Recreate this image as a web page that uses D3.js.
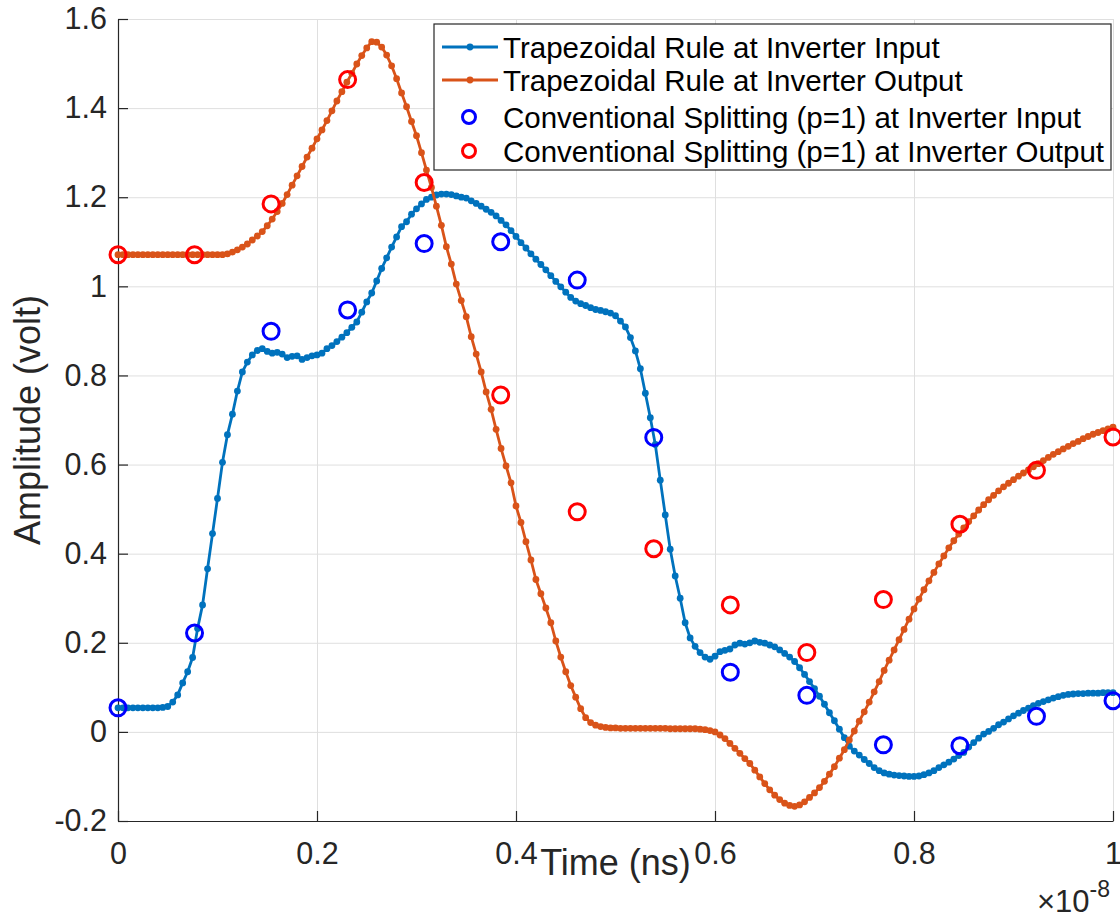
<!DOCTYPE html>
<html>
<head>
<meta charset="utf-8">
<script src="https://cdn.jsdelivr.net/npm/d3@7/dist/d3.min.js"></script>
<style>
    body { margin: 0; background: #fff; }
    text { font-family: "Liberation Sans", Arial, Helvetica, sans-serif; }
</style>
</head>
<body>
<script>
//sampling of the trapezoidal rule runs and of the splitting runs (seconds)
var trapStep = 0.005e-8
var splitStep = 1e-8 / 13

//Trapezoidal Rule at inverter input (volt), one value per trapStep
var trapInput = [
    0.054, 0.054, 0.054, 0.054, 0.054, 0.054, 0.054, 0.054, 0.054, 0.055,
    0.057, 0.067, 0.083, 0.110, 0.135, 0.167, 0.232, 0.285, 0.366, 0.445,
    0.524, 0.605, 0.667, 0.713, 0.765, 0.808, 0.830, 0.846, 0.856, 0.860,
    0.854, 0.850, 0.852, 0.848, 0.840, 0.843, 0.844, 0.836, 0.840, 0.844,
    0.846, 0.850, 0.860, 0.867, 0.876, 0.886, 0.896, 0.908, 0.920, 0.942,
    0.965, 0.985, 1.012, 1.040, 1.064, 1.088, 1.111, 1.134, 1.145, 1.162,
    1.174, 1.185, 1.195, 1.200, 1.205, 1.207, 1.207, 1.206, 1.203, 1.200,
    1.198, 1.192, 1.186, 1.180, 1.173, 1.166, 1.158, 1.148, 1.138, 1.125,
    1.112, 1.098, 1.086, 1.073, 1.061, 1.049, 1.037, 1.024, 1.011, 0.999,
    0.987, 0.975, 0.967, 0.961, 0.957, 0.952, 0.948, 0.946, 0.943, 0.940,
    0.934, 0.922, 0.909, 0.885, 0.855, 0.815, 0.760, 0.705, 0.645, 0.565,
    0.487, 0.410, 0.350, 0.300, 0.245, 0.211, 0.192, 0.178, 0.168, 0.163,
    0.170, 0.180, 0.183, 0.186, 0.195, 0.199, 0.197, 0.200, 0.204, 0.201,
    0.199, 0.195, 0.191, 0.184, 0.176, 0.168, 0.158, 0.144, 0.129, 0.113,
    0.097, 0.080, 0.062, 0.043, 0.025, 0.006, -0.013, -0.032, -0.043, -0.052,
    -0.062, -0.071, -0.080, -0.087, -0.092, -0.095, -0.097, -0.098, -0.099, -0.100,
    -0.100, -0.099, -0.096, -0.092, -0.087, -0.080, -0.074, -0.068, -0.061, -0.053,
    -0.046, -0.034, -0.024, -0.014, -0.005, 0.001, 0.008, 0.016, 0.022, 0.029,
    0.036, 0.042, 0.048, 0.053, 0.059, 0.064, 0.068, 0.072, 0.076, 0.079,
    0.082, 0.084, 0.085, 0.086, 0.086, 0.087, 0.087, 0.087, 0.088, 0.088, 0.088
]

//Trapezoidal Rule at inverter output (volt), one value per trapStep
var trapOutput = [
    1.071, 1.071, 1.071, 1.071, 1.071, 1.071, 1.071, 1.071, 1.071, 1.071,
    1.071, 1.071, 1.071, 1.071, 1.071, 1.071, 1.071, 1.071, 1.071, 1.071,
    1.071, 1.071, 1.073, 1.077, 1.082, 1.088, 1.095, 1.104, 1.113, 1.123,
    1.136, 1.151, 1.168, 1.186, 1.206, 1.227, 1.248, 1.269, 1.290, 1.310,
    1.331, 1.351, 1.372, 1.394, 1.416, 1.437, 1.458, 1.478, 1.499, 1.518,
    1.535, 1.549, 1.548, 1.537, 1.519, 1.495, 1.466, 1.434, 1.403, 1.370,
    1.338, 1.300, 1.261, 1.222, 1.180, 1.137, 1.089, 1.050, 1.005, 0.968,
    0.932, 0.887, 0.848, 0.808, 0.763, 0.724, 0.679, 0.636, 0.597, 0.559,
    0.507, 0.470, 0.427, 0.386, 0.342, 0.310, 0.278, 0.245, 0.204, 0.168,
    0.135, 0.104, 0.078, 0.052, 0.032, 0.021, 0.015, 0.012, 0.010, 0.009,
    0.009, 0.008, 0.008, 0.008, 0.008, 0.008, 0.008, 0.008, 0.008, 0.008,
    0.008, 0.007, 0.007, 0.007, 0.007, 0.007, 0.007, 0.006, 0.005, 0.003,
    0.000, -0.007, -0.015, -0.026, -0.037, -0.048, -0.060, -0.071, -0.086, -0.101,
    -0.116, -0.130, -0.142, -0.152, -0.160, -0.165, -0.167, -0.164, -0.157, -0.147,
    -0.137, -0.125, -0.111, -0.095, -0.078, -0.059, -0.040, -0.018, 0.002, 0.024,
    0.045, 0.067, 0.090, 0.113, 0.138, 0.161, 0.184, 0.207, 0.230, 0.253,
    0.276, 0.298, 0.319, 0.339, 0.358, 0.377, 0.395, 0.413, 0.429, 0.444,
    0.458, 0.472, 0.485, 0.498, 0.510, 0.521, 0.531, 0.541, 0.550, 0.558,
    0.566, 0.574, 0.581, 0.588, 0.595, 0.602, 0.609, 0.616, 0.623, 0.629,
    0.635, 0.641, 0.647, 0.652, 0.658, 0.663, 0.668, 0.672, 0.676, 0.680, 0.684
]

//Conventional Splitting (p=1), one value per splitStep
var splitInput = [0.054, 0.222, 0.899, 0.947, 1.096, 1.100, 1.014, 0.661, 0.134, 0.082, -0.029, -0.031, 0.035, 0.070]
var splitOutput = [1.071, 1.071, 1.185, 1.464, 1.233, 0.756, 0.494, 0.411, 0.285, 0.178, 0.297, 0.466, 0.587, 0.662]

//tick values and legend entries
var xTicks = [0, 0.2e-8, 0.4e-8, 0.6e-8, 0.8e-8, 1e-8]
var yTicks = [-0.2, 0, 0.2, 0.4, 0.6, 0.8, 1, 1.2, 1.4, 1.6]
var legendLabels = ['Trapezoidal Rule at Inverter Input', 'Trapezoidal Rule at Inverter Output',
    'Conventional Splitting (p=1) at Inverter Input', 'Conventional Splitting (p=1) at Inverter Output']

//matlab default colours
var lineColors = ['#0072BD', '#D95319']
var circleColors = ['#0000FF', '#FF0000']
var axisColor = '#262626'

var margin = { top: 19, right: 7, bottom: 98, left: 118 },
    width = 1120 - margin.left - margin.right,
    height = 919 - margin.top - margin.bottom

var svg = d3.select('body').append('svg')
    .attr('width', 1120)
    .attr('height', 919)
    .style('display', 'block')

var g = svg.append('g').attr('transform', 'translate(' + margin.left + ',' + margin.top + ')')

var xScale = d3.scaleLinear().domain([0, 1e-8]).range([0, width])
var yScale = d3.scaleLinear().domain([-0.2, 1.6]).range([height, 0])

//plain number labels, hyphen minus like matlab
function fmt(v) { return String(+v.toFixed(1)) }

//grid lines
var gridX = g.append('g')
    .attr('transform', 'translate(0,' + height + ')')
    .call(d3.axisBottom(xScale).tickValues(xTicks).tickSize(-height).tickFormat(''))
var gridY = g.append('g')
    .call(d3.axisLeft(yScale).tickValues(yTicks).tickSize(-width).tickFormat(''))
;[gridX, gridY].forEach(function (grid) {
    grid.select('.domain').remove()
    grid.selectAll('line').attr('stroke', '#dfdfdf').attr('stroke-width', 1)
})

//axes with inward ticks
var xAxis = g.append('g')
    .attr('transform', 'translate(0,' + height + ')')
    .call(d3.axisBottom(xScale).tickValues(xTicks).tickSizeInner(-10).tickSizeOuter(0).tickPadding(21)
        .tickFormat(function (d) { return fmt(d / 1e-8) }))
var yAxis = g.append('g')
    .call(d3.axisLeft(yScale).tickValues(yTicks).tickSizeInner(-10).tickSizeOuter(0).tickPadding(11)
        .tickFormat(fmt))

;[xAxis, yAxis].forEach(function (axis) {
    axis.attr('font-family', null)
    axis.selectAll('.domain, .tick line').attr('stroke', axisColor).attr('stroke-width', 1.2)
    axis.selectAll('text').attr('font-size', 30.5).attr('fill', axisColor)
})

//exponent of the x axis
var expo = g.append('text')
    .attr('x', width - 3)
    .attr('y', height + 91)
    .attr('text-anchor', 'end')
    .attr('fill', axisColor)
    .attr('font-size', 31)
expo.append('tspan').text('\u00d710')
expo.append('tspan').attr('dy', -15).attr('font-size', 23).text('-8')

//axis labels
g.append('text')
    .attr('x', width / 2)
    .attr('y', height + 54)
    .attr('text-anchor', 'middle')
    .attr('fill', axisColor)
    .attr('font-size', 36)
    .text('Time (ns)')
g.append('text')
    .attr('transform', 'rotate(-90)')
    .attr('x', -height / 2)
    .attr('y', -78)
    .attr('text-anchor', 'middle')
    .attr('fill', axisColor)
    .attr('font-size', 36)
    .text('Amplitude (volt)')

//trapezoidal rule curves drawn as line plus point markers
var line = d3.line()
    .x(function (d, i) { return xScale(i * trapStep) })
    .y(function (d) { return yScale(d) })

;[trapInput, trapOutput].forEach(function (series, k) {
    g.append('path')
        .datum(series)
        .attr('fill', 'none')
        .attr('stroke', lineColors[k])
        .attr('stroke-width', 2.8)
        .attr('stroke-linejoin', 'round')
        .attr('d', line)
    g.append('g').selectAll('circle')
        .data(series)
        .enter().append('circle')
        .attr('cx', function (d, i) { return xScale(i * trapStep) })
        .attr('cy', function (d) { return yScale(d) })
        .attr('r', 3.4)
        .attr('fill', lineColors[k])
})

//splitting results as open circles
;[splitInput, splitOutput].forEach(function (series, k) {
    g.append('g').selectAll('circle')
        .data(series)
        .enter().append('circle')
        .attr('cx', function (d, i) { return xScale(i * splitStep) })
        .attr('cy', function (d) { return yScale(d) })
        .attr('r', 8)
        .attr('fill', 'none')
        .attr('stroke', circleColors[k])
        .attr('stroke-width', 3)
})

//legend
var legend = svg.append('g').attr('transform', 'translate(434,24)')
legend.append('rect')
    .attr('width', 677)
    .attr('height', 146)
    .attr('fill', '#fff')
    .attr('stroke', axisColor)
    .attr('stroke-width', 1.2)

var rowY = [23, 56, 93, 127]
var rows = legend.selectAll('.legend')
    .data(legendLabels)
    .enter().append('g')
    .attr('class', 'legend')
    .attr('transform', function (d, i) { return 'translate(0,' + rowY[i] + ')' })

rows.append('text')
    .attr('x', 69)
    .attr('dy', '0.36em')
    .attr('font-size', 29.5)
    .attr('fill', '#000')
    .text(function (d) { return d })

rows.filter(function (d, i) { return i < 2 }).each(function (d, i) {
    var row = d3.select(this)
    row.append('line')
        .attr('x1', 8).attr('x2', 64)
        .attr('stroke', lineColors[i])
        .attr('stroke-width', 2.8)
    row.append('circle')
        .attr('cx', 36)
        .attr('r', 3.4)
        .attr('fill', lineColors[i])
})
rows.filter(function (d, i) { return i >= 2 }).each(function (d, i) {
    d3.select(this).append('circle')
        .attr('cx', 35)
        .attr('r', 6.5)
        .attr('fill', 'none')
        .attr('stroke', circleColors[i])
        .attr('stroke-width', 3)
})
</script>
</body>
</html>
